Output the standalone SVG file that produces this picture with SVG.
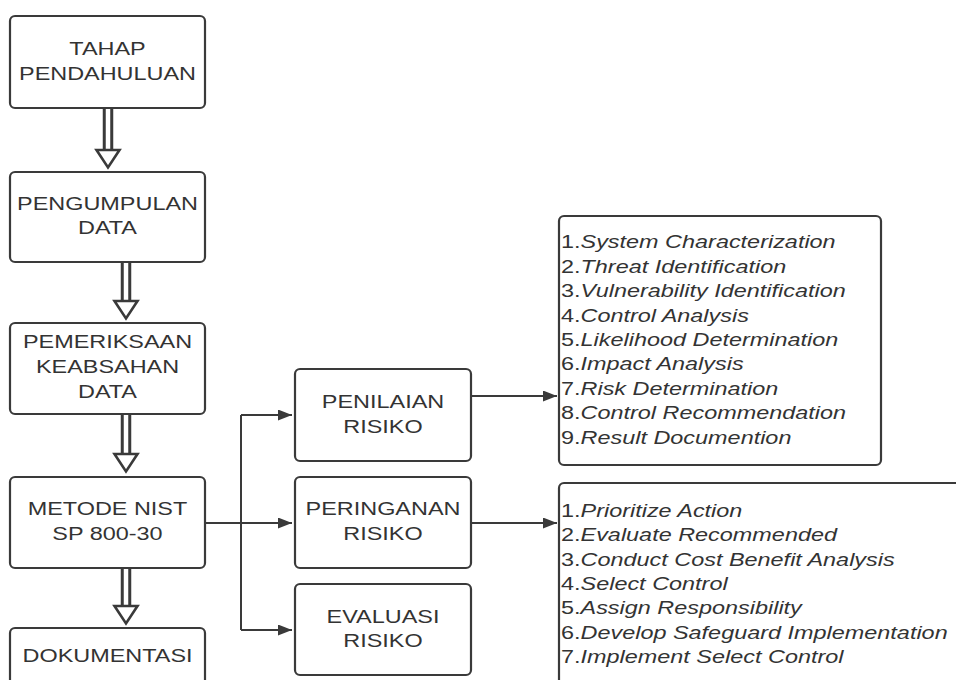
<svg xmlns="http://www.w3.org/2000/svg" width="956" height="680" viewBox="0 0 956 680">
<style>
.box{fill:#fff;stroke:#3a3a3a;stroke-width:2.2}
.t{font-family:"Liberation Sans",Arial,sans-serif;font-size:18.6px;fill:#333;text-anchor:middle}
.l{font-family:"Liberation Sans",Arial,sans-serif;font-size:18.6px;fill:#333}
.i{font-style:italic}
.line{fill:none;stroke:#3a3a3a;stroke-width:2}
.shaftO{fill:none;stroke:#3a3a3a;stroke-width:10.5}
.shaftI{fill:none;stroke:#fff;stroke-width:4.5}
.head{fill:#fff;stroke:#3a3a3a;stroke-width:2.6;stroke-linejoin:miter}
</style>
<defs>
<marker id="ah" markerWidth="14" markerHeight="11" refX="14" refY="5.5" orient="auto" markerUnits="userSpaceOnUse">
<path d="M0,0 L14,5.5 L0,11 Z" fill="#3a3a3a"/>
</marker>
<path id="tri" class="head" d="M-11.5,0 L11.5,0 L0,17.5 Z"/>
</defs>
<rect width="956" height="680" fill="#fff"/>

<g id="connectors">
<path class="shaftO" d="M108,108 V151"/><path class="shaftI" d="M108,108 V151"/><use href="#tri" x="108" y="150"/>
<path class="shaftO" d="M126,262 V302"/><path class="shaftI" d="M126,262 V302"/><use href="#tri" x="126" y="301"/>
<path class="shaftO" d="M126,414 V455"/><path class="shaftI" d="M126,414 V455"/><use href="#tri" x="126" y="454"/>
<path class="shaftO" d="M126,568 V607"/><path class="shaftI" d="M126,568 V607"/><use href="#tri" x="126" y="606"/>
<path class="line" d="M205,523 H241"/>
<path class="line" d="M241,415 V630"/>
<path class="line" d="M241,415 H292" marker-end="url(#ah)"/>
<path class="line" d="M241,523 H292" marker-end="url(#ah)"/>
<path class="line" d="M241,630 H292" marker-end="url(#ah)"/>
<path class="line" d="M471,396 H557" marker-end="url(#ah)"/>
<path class="line" d="M471,523 H557" marker-end="url(#ah)"/>
</g>

<g id="tahap">
<rect class="box" x="10" y="16" width="195" height="92" rx="5"/>
<text class="t" transform="translate(107.5,55) scale(1.26,1)">TAHAP</text>
<text class="t" transform="translate(107.5,80) scale(1.26,1)">PENDAHULUAN</text>
</g>
<g id="pengumpulan">
<rect class="box" x="10" y="172" width="195" height="90" rx="5"/>
<text class="t" transform="translate(107.5,210) scale(1.26,1)">PENGUMPULAN</text>
<text class="t" transform="translate(107.5,234) scale(1.26,1)">DATA</text>
</g>
<g id="pemeriksaan">
<rect class="box" x="10" y="323" width="195" height="91" rx="5"/>
<text class="t" transform="translate(107.5,348) scale(1.26,1)">PEMERIKSAAN</text>
<text class="t" transform="translate(107.5,373) scale(1.26,1)">KEABSAHAN</text>
<text class="t" transform="translate(107.5,398) scale(1.26,1)">DATA</text>
</g>
<g id="metode">
<rect class="box" x="10" y="477" width="195" height="91" rx="5"/>
<text class="t" transform="translate(107.5,515) scale(1.26,1)">METODE NIST</text>
<text class="t" transform="translate(107.5,540) scale(1.26,1)">SP 800-30</text>
</g>
<g id="dokumentasi">
<rect class="box" x="10" y="628" width="195" height="70" rx="5"/>
<text class="t" transform="translate(107.5,661.5) scale(1.26,1)">DOKUMENTASI</text>
</g>

<g id="penilaian">
<rect class="box" x="295" y="369" width="176" height="92" rx="5"/>
<text class="t" transform="translate(383,408) scale(1.26,1)">PENILAIAN</text>
<text class="t" transform="translate(383,433) scale(1.26,1)">RISIKO</text>
</g>
<g id="peringanan">
<rect class="box" x="295" y="477" width="176" height="91" rx="5"/>
<text class="t" transform="translate(383,515) scale(1.26,1)">PERINGANAN</text>
<text class="t" transform="translate(383,539.5) scale(1.26,1)">RISIKO</text>
</g>
<g id="evaluasi">
<rect class="box" x="295" y="584" width="176" height="91" rx="5"/>
<text class="t" transform="translate(383,622.5) scale(1.26,1)">EVALUASI</text>
<text class="t" transform="translate(383,647) scale(1.26,1)">RISIKO</text>
</g>

<g id="list-penilaian">
<rect class="box" x="559" y="216" width="322" height="249" rx="5"/>
<text class="l" transform="translate(561,248.3) scale(1.26,1)">1.<tspan class="i">System Characterization</tspan></text>
<text class="l" transform="translate(561,272.7) scale(1.26,1)">2.<tspan class="i">Threat Identification</tspan></text>
<text class="l" transform="translate(561,297.1) scale(1.26,1)">3.<tspan class="i">Vulnerability Identification</tspan></text>
<text class="l" transform="translate(561,321.5) scale(1.26,1)">4.<tspan class="i">Control Analysis</tspan></text>
<text class="l" transform="translate(561,345.9) scale(1.26,1)">5.<tspan class="i">Likelihood Determination</tspan></text>
<text class="l" transform="translate(561,370.3) scale(1.26,1)">6.<tspan class="i">Impact Analysis</tspan></text>
<text class="l" transform="translate(561,394.7) scale(1.26,1)">7.<tspan class="i">Risk Determination</tspan></text>
<text class="l" transform="translate(561,419.1) scale(1.26,1)">8.<tspan class="i">Control Recommendation</tspan></text>
<text class="l" transform="translate(561,443.5) scale(1.26,1)">9.<tspan class="i">Result Documention</tspan></text>
</g>
<g id="list-peringanan">
<rect class="box" x="559" y="483" width="420" height="230" rx="5"/>
<text class="l" transform="translate(561,516.7) scale(1.26,1)">1.<tspan class="i">Prioritize Action</tspan></text>
<text class="l" transform="translate(561,541.1) scale(1.26,1)">2.<tspan class="i">Evaluate Recommended</tspan></text>
<text class="l" transform="translate(561,565.6) scale(1.26,1)">3.<tspan class="i">Conduct Cost Benefit Analysis</tspan></text>
<text class="l" transform="translate(561,590) scale(1.26,1)">4.<tspan class="i">Select Control</tspan></text>
<text class="l" transform="translate(561,614.4) scale(1.26,1)">5.<tspan class="i">Assign Responsibility</tspan></text>
<text class="l" transform="translate(561,638.9) scale(1.26,1)">6.<tspan class="i">Develop Safeguard Implementation</tspan></text>
<text class="l" transform="translate(561,663.3) scale(1.26,1)">7.<tspan class="i">Implement Select Control</tspan></text>
</g>
</svg>
